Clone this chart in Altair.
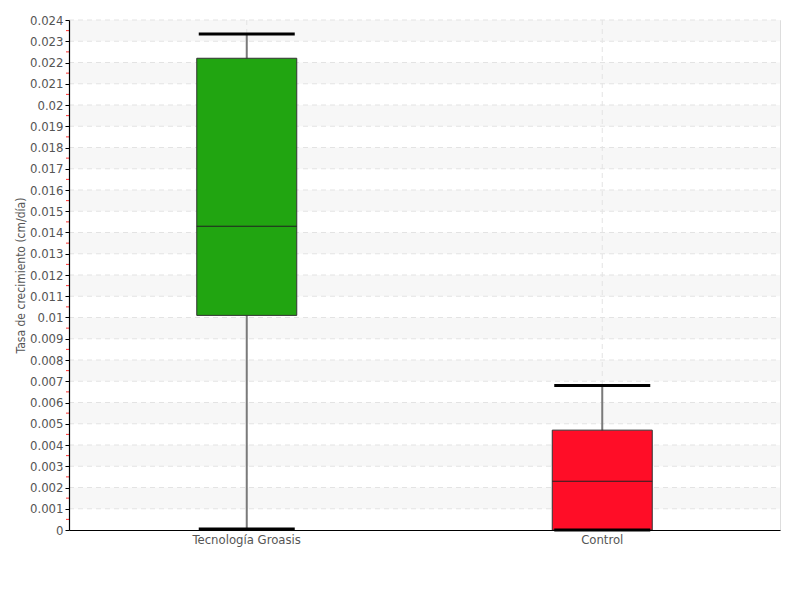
import altair as alt
import pandas as pd

categories = ["Tecnología Groasis", "Control"]
whisker_low = [0.00005, 0.0]
q1 = [0.0101, 0.0]
median = [0.0143, 0.0023]
q3 = [0.0222, 0.0047]
whisker_high = [0.02334, 0.0068]
box_colors = ["#21a511", "#ff0d27"]

tick_values = [round(i * 0.001, 3) for i in range(25)]
grid_values = tick_values[1:]
band_low = [round(0.001 + 2 * i * 0.001, 3) for i in range(12)]
band_high = [round(b + 0.001, 3) for b in band_low]
minor_ticks = [round(0.0005 + i * 0.001, 4) for i in range(24)]

FONT = "DejaVu Sans Condensed"

box_df = pd.DataFrame({
    "cat": categories, "lo": whisker_low, "q1": q1, "med": median,
    "q3": q3, "hi": whisker_high, "color": box_colors,
})
bands_df = pd.DataFrame({"y": band_low, "y2": band_high})
grid_df = pd.DataFrame({"y": grid_values})
minor_df = pd.DataFrame({"y": minor_ticks})
cat_df = pd.DataFrame({"cat": categories})

xscale = alt.Scale(domain=categories, paddingInner=0, paddingOuter=0)
yscale = alt.Scale(domain=[0, 0.024], nice=False, zero=True)

x_axis = alt.Axis(title=None, labelAngle=0, labelAlign="center", labelBaseline="top",
                  ticks=False, grid=False, bandPosition=0.5, labelOverlap=False,
                  labelFont=FONT, labelFontSize=13, labelColor="#555555",
                  labelPadding=3, domainColor="#000000", domainWidth=1.2, zindex=1)
y_axis = alt.Axis(title="Tasa de crecimiento (cm/día)", values=tick_values,
                  format="~g", grid=False, tickColor="#000000", tickSize=4,
                  labelOverlap=False,
                  labelFont=FONT, labelFontSize=13, labelColor="#555555",
                  labelPadding=2, titleFont=FONT, titleFontSize=12,
                  titleColor="#555555", titleFontWeight="normal",
                  titlePadding=2, domainColor="#000000", domainWidth=1.2, zindex=1)


def X(field):
    return alt.X(field, scale=xscale, sort=categories, axis=x_axis)


def Y(field):
    return alt.Y(field, scale=yscale, axis=y_axis)


bands = alt.Chart(bands_df).mark_rect(color="#f7f7f7").encode(
    y=Y("y:Q"), y2="y2:Q",
    x=alt.value(0), x2=alt.value(711))

hgrid = alt.Chart(grid_df).mark_rule(color="#e3e3e3", strokeDash=[5, 4], strokeWidth=1).encode(
    y=Y("y:Q"), x=alt.value(0), x2=alt.value(711))

vgrid = alt.Chart(cat_df).mark_rule(color="#e3e3e3", strokeDash=[5, 4], strokeWidth=1).encode(
    x=X("cat:N"), y=alt.value(0), y2=alt.value(510))

minor = alt.Chart(minor_df).mark_rule(color="#ff3030", strokeWidth=1).encode(
    y=Y("y:Q"), x=alt.value(-3), x2=alt.value(0))

base = alt.Chart(box_df)

whisk = base.mark_rule(color="#7a7a7a", strokeWidth=2).encode(
    x=X("cat:N"), y=Y("lo:Q"), y2="hi:Q")

boxes = base.mark_bar(size=100, stroke="#333333", strokeWidth=1, opacity=1).encode(
    x=X("cat:N"), y=Y("q1:Q"), y2="q3:Q",
    color=alt.Color("color:N", scale=None))

med = base.mark_tick(size=100, thickness=1, color="#222222", opacity=1).encode(
    x=X("cat:N"), y=Y("med:Q"))

cap_hi = base.mark_tick(size=96, thickness=3, color="#000000", opacity=1).encode(
    x=X("cat:N"), y=Y("hi:Q"))

cap_lo = base.mark_tick(size=96, thickness=3, color="#000000", opacity=1).encode(
    x=X("cat:N"), y=Y("lo:Q"))

chart = alt.layer(bands, hgrid, vgrid, whisk, boxes, med, cap_hi, cap_lo, minor).properties(
    width=711, height=510,
    autosize=alt.AutoSizeParams(type="none"),
    padding={"left": 61, "top": 12, "right": 10, "bottom": 50},
).configure_view(stroke=None).configure(background="#ffffff")

chart.save("out.html", embed_options={"renderer": "svg", "actions": False})
